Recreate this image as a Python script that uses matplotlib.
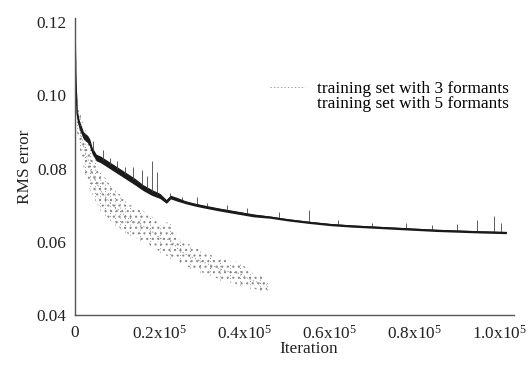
import numpy as np
import matplotlib
matplotlib.use("Agg")
import matplotlib.pyplot as plt
from matplotlib.lines import Line2D

plt.rcParams['font.family'] = ['Liberation Serif', 'DejaVu Serif']
plt.rcParams['mathtext.fontset'] = 'custom'
plt.rcParams['mathtext.rm'] = 'Liberation Serif'
plt.rcParams['mathtext.it'] = 'Liberation Serif'
plt.rcParams['hatch.linewidth'] = 0.8

# training set with 5 formants
it5 = [0, 200, 500, 1000, 2000, 3000, 3500, 4000, 5000, 6000, 8000, 10000,
       12000, 14000, 16000, 18000, 20000, 21500, 22500, 24000, 26000, 28000,
       30000, 34000, 38000, 42000, 46000, 50000, 55000, 60000, 65000, 70000,
       75000, 80000, 85000, 90000, 95000, 101500]
mid5 = [0.120, 0.105, 0.095, 0.092, 0.089, 0.088, 0.087, 0.085, 0.083, 0.0825,
        0.081, 0.0795, 0.078, 0.0765, 0.0748, 0.0735, 0.0725, 0.0710, 0.0722,
        0.0716, 0.0708, 0.0702, 0.0697, 0.0688, 0.0680, 0.0672, 0.0667, 0.0660,
        0.0653, 0.0647, 0.0643, 0.0640, 0.0637, 0.0634, 0.0631, 0.0629, 0.0627,
        0.0625]
half5 = [0.0, 0.0012, 0.0012, 0.0012, 0.0010, 0.0010, 0.0010, 0.0009, 0.0009,
         0.0009, 0.0009, 0.0009, 0.0009, 0.0009, 0.0008, 0.0008, 0.0007, 0.0005,
         0.0005, 0.0005, 0.0004, 0.0004, 0.0004, 0.0004, 0.0004, 0.0004, 0.0003,
         0.0003, 0.0003, 0.0003, 0.0003, 0.0003, 0.0003, 0.0003, 0.0003, 0.0003,
         0.0003, 0.0003]
# upward spikes of the 5-formant curve
spike_it5 = [4200, 6500, 8300, 9900, 11800, 13700, 15800, 17000, 18100, 19300,
             22300, 25200, 28700, 31000, 35700, 40400, 48000, 55000, 62000,
             70000, 78000, 84000, 90000, 94700, 98500, 100300]
spike_top5 = [0.0874, 0.0850, 0.0830, 0.0820, 0.0805, 0.0805, 0.0797, 0.0780,
              0.0820, 0.0790, 0.0734, 0.0723, 0.0723, 0.0707, 0.0701, 0.0693,
              0.0680, 0.0688, 0.0660, 0.0652, 0.0650, 0.0645, 0.0648, 0.0660,
              0.0671, 0.0652]

# training set with 3 formants: extent of the dotted cloud
it3 = [500, 1200, 2400, 3500, 4700, 5900, 7000, 8200, 9400, 10600, 11800,
       12900, 15300, 17600, 20000, 22400, 24700, 27000, 29400, 31800, 34100,
       36500, 38800, 41200, 43500, 45200]
hi3 = [0.0989, 0.0948, 0.0907, 0.0879, 0.0825, 0.0797, 0.0775, 0.0756, 0.0742,
       0.0729, 0.0715, 0.0701, 0.0688, 0.0674, 0.0647, 0.0655, 0.0605, 0.0592,
       0.0578, 0.0564, 0.0556, 0.0545, 0.0545, 0.0518, 0.0507, 0.0496]
lo3 = [0.0900, 0.0852, 0.0784, 0.0742, 0.0715, 0.0688, 0.0674, 0.0660, 0.0647,
       0.0638, 0.0627, 0.0619, 0.0605, 0.0592, 0.0573, 0.0556, 0.0545, 0.0529,
       0.0518, 0.0510, 0.0496, 0.0490, 0.0482, 0.0474, 0.0468, 0.0468]

xticks = [0, 20000, 40000, 60000, 80000, 100000]
xticklabels = ['0', '0.2x10$^5$', '0.4x10$^5$', '0.6x10$^5$', '0.8x10$^5$',
               '1.0x10$^5$']
yticks = [0.04, 0.06, 0.08, 0.10, 0.12]
yticklabels = ['0.04', '0.06', '0.08', '0.10', '0.12']

fig = plt.figure(figsize=(5.31, 3.67), dpi=100)
ax = fig.add_axes([0.1412, 0.1417, 0.8267, 0.8093])

grey = '#777777'
dark = '#1a1a1a'

# 3 formants: dotted cloud
ax.fill_between(it3, lo3, hi3, facecolor='none', edgecolor='#8a8a8a', hatch='...',
                linewidth=0)
ax.vlines(it3, lo3, hi3, colors=grey, linestyles=(0, (1, 3)), linewidth=0.6)
mid3 = [(a + b) / 2 for a, b in zip(lo3, hi3)]
l3, = ax.plot(it3, mid3, color=grey, linestyle=(0, (2, 3)), linewidth=0.5)

# 5 formants: dark noisy band
lo5 = np.array(mid5) - np.array(half5)
hi5 = np.array(mid5) + np.array(half5)
ax.vlines(spike_it5, np.interp(spike_it5, it5, mid5), spike_top5,
          colors='#444444', linewidth=0.6)
ax.fill_between(it5, lo5, hi5, color=dark, linewidth=0)
ax.plot(it5, mid5, color=dark, linewidth=1.0)

ax.set_xlim(0, 103300)
ax.set_ylim(0.04, 0.1211)
ax.set_xticks(xticks)
ax.set_xticklabels(xticklabels)
ax.set_yticks(yticks)
ax.set_yticklabels(yticklabels)
ax.tick_params(length=0, labelsize=12.4, colors='#222222')
ax.tick_params(axis='x', pad=7)
ax.tick_params(axis='y', pad=6)

for s in ['top', 'right']:
    ax.spines[s].set_visible(False)
for s in ['left', 'bottom']:
    ax.spines[s].set_color('#555555')
    ax.spines[s].set_linewidth(1.0)

ax.set_xlabel('Iteration', fontsize=12.4, color='#222222')
ax.set_ylabel('RMS error', fontsize=12.4, color='#222222')
ax.xaxis.set_label_coords(0.533, -0.086)
ax.yaxis.set_label_coords(-0.096, 0.5)

h5 = Line2D([], [], alpha=0)
ax.legend([l3, h5], ['training set with 3 formants', 'training set with 5 formants'],
          loc='upper left', bbox_to_anchor=(270 / 531, 1 - 81 / 367),
          bbox_transform=fig.transFigure, frameon=False, fontsize=12.4,
          handlelength=2.05, handletextpad=0.7, labelspacing=-0.05,
          borderaxespad=0, borderpad=0)

fig.savefig('out.png', dpi=100)
